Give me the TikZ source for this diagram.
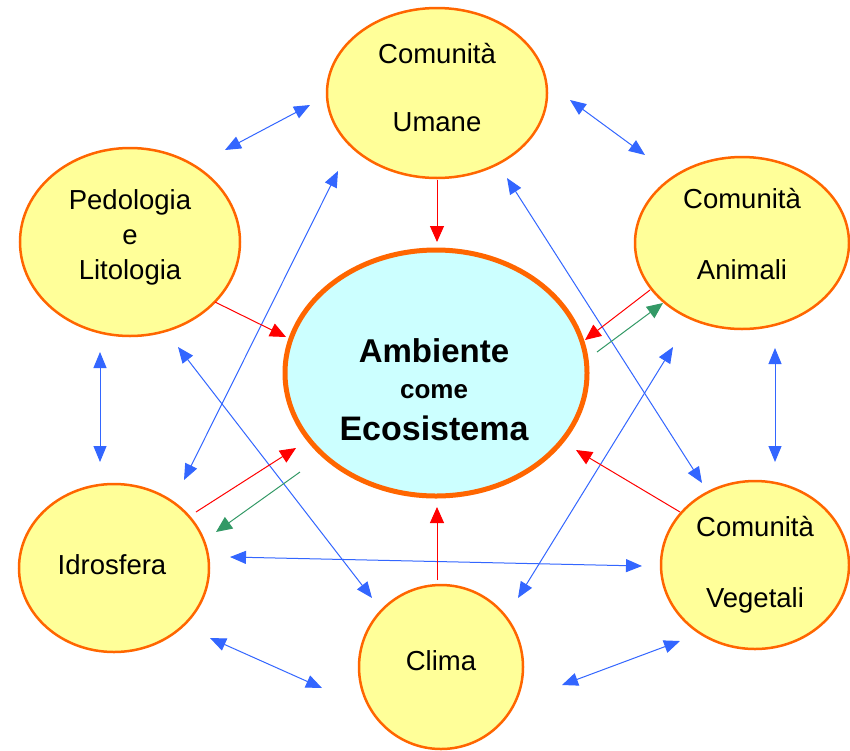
\documentclass[tikz,border=0pt]{standalone}
\usepackage{fontspec}
\setmainfont{Liberation Sans}
\usetikzlibrary{arrows.meta,shapes.geometric}
\definecolor{fillY}{HTML}{FFFF99}
\definecolor{edgeO}{HTML}{FF6600}
\definecolor{fillC}{HTML}{CCFFFF}
\definecolor{arrB}{HTML}{3366FF}
\definecolor{arrR}{HTML}{FF0000}
\definecolor{arrG}{HTML}{339966}
\begin{document}
\begin{tikzpicture}[x=1pt,y=-1pt,
  bub/.style={ellipse,draw=edgeO,fill=fillY,line width=2.5pt,inner sep=0pt},
  lab/.style={font=\fontsize{27.5}{27.5}\selectfont,anchor=base,inner sep=0pt},
  bi/.style={arrB,line width=1pt,{Triangle[length=16pt,width=13pt]}-{Triangle[length=16pt,width=13pt]}},
  toC/.style={arrR,line width=1pt,-{Triangle[length=16pt,width=14pt]}},
  back/.style={arrG,line width=1pt,-{Triangle[length=16pt,width=14pt]}}]
\useasboundingbox (0,0) rectangle (850,750);
\fill[white] (0,0) rectangle (850,750);

% ellipses
\node[bub,minimum width=220pt,minimum height=170pt] (U) at (437,93) {};
\node[bub,minimum width=220pt,minimum height=188pt] (P) at (130,242) {};
\node[bub,minimum width=214pt,minimum height=172pt] (A) at (742,243) {};
\node[bub,minimum width=190pt,minimum height=168pt] (I) at (114,568) {};
\node[bub,minimum width=164pt,minimum height=164pt] (K) at (441,667) {};
\node[bub,minimum width=188pt,minimum height=168pt] (V) at (755,565) {};
\node[ellipse,draw=edgeO,fill=fillC,line width=5pt,inner sep=0pt,
      minimum width=302pt,minimum height=246pt] (C) at (436,373) {};

% labels
\node[lab] (U1) at (437,63) {Comunità};
\node[lab] (U2) at (437,131) {Umane};
\node[lab] (P1) at (130,209) {Pedologia};
\node[lab] (P2) at (130,244) {e};
\node[lab] (P3) at (130,279) {Litologia};
\node[lab] (A1) at (742,208) {Comunità};
\node[lab] (A2) at (742,279) {Animali};
\node[lab] (V1) at (755,536) {Comunità};
\node[lab] (V2) at (755,607) {Vegetali};
\node[lab] (I1) at (112,574) {Idrosfera};
\node[lab] (K1) at (441,670) {Clima};
\node[anchor=base,inner sep=0pt,font=\bfseries\fontsize{33}{33}\selectfont] (C1) at (434,362) {Ambiente};
\node[anchor=base,inner sep=0pt,font=\bfseries\fontsize{26}{26}\selectfont] (C2) at (434,398) {come};
\node[anchor=base,inner sep=0pt,font=\bfseries\fontsize{34}{34}\selectfont] (C3) at (434,440) {Ecosistema};

% connector end points
\coordinate (b1a) at (225,150); \coordinate (b1b) at (310,105);
\coordinate (b2a) at (570,100); \coordinate (b2b) at (645,155);
\coordinate (b3a) at (100,352); \coordinate (b3b) at (100,462);
\coordinate (b4a) at (775,348); \coordinate (b4b) at (775,462);
\coordinate (b5a) at (230,557); \coordinate (b5b) at (642,566);
\coordinate (b6a) at (210,638); \coordinate (b6b) at (322,688);
\coordinate (b7a) at (562,685); \coordinate (b7b) at (680,641);
\coordinate (b8a) at (178,347); \coordinate (b8b) at (372,598);
\coordinate (b9a) at (184,480); \coordinate (b9b) at (338,171);
\coordinate (b10a) at (507,178); \coordinate (b10b) at (702,483);
\coordinate (b11a) at (673,347); \coordinate (b11b) at (518,598);
\coordinate (r1a) at (437,180); \coordinate (r1b) at (437,242);
\coordinate (r2a) at (215,302); \coordinate (r2b) at (286,337);
\coordinate (r3a) at (650,290); \coordinate (r3b) at (585,340);
\coordinate (r4a) at (196,512); \coordinate (r4b) at (296,448);
\coordinate (r5a) at (680,512); \coordinate (r5b) at (576,450);
\coordinate (r6a) at (437,580); \coordinate (r6b) at (437,507);
\coordinate (g1a) at (597,352); \coordinate (g1b) at (663,303);
\coordinate (g2a) at (300,472); \coordinate (g2b) at (216,532);

% blue double arrows
\foreach \n in {1,...,11} {\draw[bi] (b\n a) -- (b\n b);}
% red arrows towards the centre
\foreach \n in {1,...,6} {\draw[toC] (r\n a) -- (r\n b);}
% green arrows
\draw[back] (g1a) -- (g1b);
\draw[back] (g2a) -- (g2b);
\end{tikzpicture}
\end{document}
